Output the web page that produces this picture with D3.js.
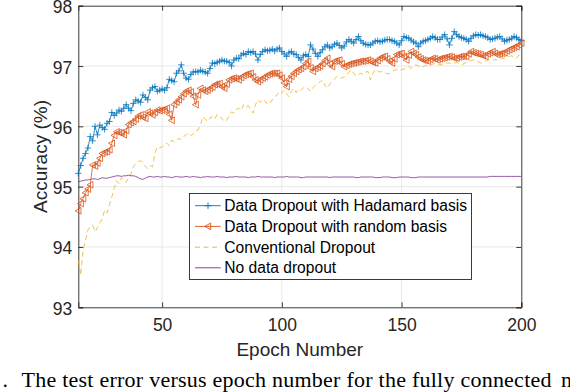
<!DOCTYPE html>
<html>
<head>
<meta charset="utf-8">
<script src="https://cdn.jsdelivr.net/npm/d3@7"></script>
<style>
html, body { margin: 0; padding: 0; background: #fff; }
svg { display: block; }
</style>
</head>
<body>
<svg id="chart" width="570" height="392"></svg>
<script>
// epochs run from firstEpoch to 200, one value per epoch
const firstEpoch = 15;

const hadamard = [
    95.22, 95.35, 95.47, 95.55, 95.64, 95.83, 95.76, 96.00, 95.86, 96.02,
    95.98, 95.95, 96.05, 96.08, 96.23, 96.18, 96.22, 96.27, 96.25, 96.30,
    96.36, 96.30, 96.26, 96.38, 96.44, 96.42, 96.40, 96.52, 96.48, 96.44,
    96.60, 96.64, 96.66, 96.58, 96.60, 96.62, 96.60, 96.64, 96.78, 96.76,
    96.74, 96.88, 96.92, 97.02, 96.88, 96.80, 96.78, 96.86, 96.90, 96.91,
    96.90, 96.93, 96.91, 96.90, 96.88, 96.96, 97.05, 97.04, 97.06, 97.08,
    97.10, 97.08, 97.08, 97.06, 97.00, 97.10, 97.13, 97.12, 97.18, 97.21,
    97.19, 97.24, 97.22, 97.24, 97.20, 97.10, 97.19, 97.24, 97.27, 97.25,
    97.26, 97.28, 97.25, 97.28, 97.30, 97.24, 97.20, 97.16, 97.22, 97.24,
    97.20, 97.19, 97.14, 97.10, 97.17, 97.19, 97.16, 97.35, 97.28, 97.21,
    97.16, 97.22, 97.27, 97.32, 97.35, 97.30, 97.32, 97.36, 97.38, 97.34,
    97.30, 97.33, 97.40, 97.44, 97.41, 97.38, 97.44, 97.49, 97.42, 97.38,
    97.36, 97.35, 97.35, 97.38, 97.41, 97.42, 97.40, 97.41, 97.43, 97.44,
    97.44, 97.42, 97.41, 97.38, 97.35, 97.42, 97.49, 97.47, 97.46, 97.43,
    97.40, 97.38, 97.32, 97.38, 97.41, 97.42, 97.44, 97.46, 97.49, 97.47,
    97.44, 97.44, 97.48, 97.52, 97.45, 97.35, 97.46, 97.57, 97.52, 97.49,
    97.47, 97.46, 97.44, 97.41, 97.46, 97.50, 97.52, 97.51, 97.52, 97.50,
    97.49, 97.47, 97.44, 97.45, 97.46, 97.48, 97.49, 97.45, 97.41, 97.43,
    97.44, 97.46, 97.49, 97.47, 97.44, 97.42
];

const randomBasis = [
    94.60, 94.72, 94.80, 94.90, 94.96, 95.03, 95.36, 95.34, 95.39, 95.47,
    95.55, 95.57, 95.58, 95.61, 95.72, 95.85, 95.91, 95.90, 95.89, 95.86,
    95.93, 96.03, 96.06, 96.08, 96.12, 96.17, 96.19, 96.15, 96.13, 96.24,
    96.22, 96.19, 96.23, 96.27, 96.26, 96.27, 96.28, 96.30, 96.20, 96.10,
    96.36, 96.40, 96.44, 96.49, 96.54, 96.58, 96.60, 96.57, 96.50, 96.36,
    96.52, 96.63, 96.60, 96.58, 96.60, 96.63, 96.65, 96.69, 96.70, 96.71,
    96.66, 96.63, 96.70, 96.77, 96.79, 96.80, 96.79, 96.77, 96.81, 96.84,
    96.86, 96.87, 96.88, 96.82, 96.77, 96.74, 96.77, 96.80, 96.82, 96.85,
    96.87, 96.88, 96.88, 96.88, 96.85, 96.80, 96.72, 96.66, 96.78, 96.83,
    96.88, 96.91, 96.94, 96.96, 96.99, 97.04, 97.08, 96.97, 96.91, 96.96,
    96.98, 97.00, 97.04, 97.09, 97.13, 97.03, 96.99, 97.08, 97.09, 97.10,
    97.04, 96.99, 97.01, 97.03, 97.04, 97.05, 97.06, 97.07, 97.08, 97.08,
    97.09, 97.10, 97.08, 97.06, 97.05, 97.09, 97.13, 97.15, 97.16, 97.12,
    97.08, 97.05, 97.12, 97.19, 97.20, 97.21, 97.16, 97.10, 97.18, 97.24,
    97.21, 97.19, 97.15, 97.12, 97.10, 97.09, 97.08, 97.11, 97.13, 97.12,
    97.10, 97.12, 97.13, 97.14, 97.15, 97.16, 97.15, 97.13, 97.13, 97.15,
    97.16, 97.16, 97.16, 97.20, 97.24, 97.22, 97.21, 97.20, 97.19, 97.17,
    97.16, 97.20, 97.22, 97.24, 97.21, 97.19, 97.20, 97.21, 97.22, 97.25,
    97.27, 97.29, 97.31, 97.32, 97.35, 97.38
];

const conventional = [
    93.78, 93.53, 93.95, 94.10, 94.28, 94.34, 94.36, 94.25, 94.32, 94.40,
    94.47, 94.61, 94.56, 94.70, 94.83, 94.98, 95.10, 95.05, 95.15, 95.10,
    95.07, 95.15, 95.21, 95.33, 95.38, 95.41, 95.43, 95.40, 95.33, 95.30,
    95.35, 95.33, 95.55, 95.66, 95.64, 95.66, 95.70, 95.72, 95.68, 95.77,
    95.74, 95.77, 95.80, 95.78, 95.83, 95.86, 95.89, 95.85, 95.87, 95.92,
    95.94, 96.02, 96.16, 96.12, 96.08, 96.14, 96.16, 96.12, 96.20, 96.16,
    96.13, 96.08, 96.10, 96.18, 96.24, 96.22, 96.28, 96.30, 96.26, 96.36,
    96.32, 96.34, 96.28, 96.22, 96.36, 96.44, 96.40, 96.45, 96.42, 96.36,
    96.38, 96.44, 96.49, 96.52, 96.58, 96.55, 96.60, 96.54, 96.49, 96.58,
    96.63, 96.56, 96.62, 96.60, 96.64, 96.66, 96.62, 96.58, 96.64, 96.68,
    96.71, 96.74, 96.77, 96.68, 96.63, 96.70, 96.74, 96.78, 96.83, 96.81,
    96.80, 96.82, 96.85, 96.90, 96.94, 96.88, 96.83, 96.86, 96.88, 96.86,
    96.90, 96.91, 96.77, 96.88, 96.94, 96.92, 96.90, 96.91, 96.89, 96.87,
    96.88, 96.91, 96.93, 96.94, 96.92, 96.94, 96.95, 96.97, 96.99, 96.96,
    97.00, 97.02, 97.00, 96.98, 96.99, 97.01, 97.02, 97.00, 97.03, 97.05,
    97.04, 97.02, 97.02, 97.04, 97.05, 97.05, 97.03, 97.05, 97.06, 97.04,
    97.02, 97.04, 97.06, 97.08, 97.09, 97.10, 97.10, 97.07, 97.05, 97.05,
    97.08, 97.10, 97.10, 97.09, 97.11, 97.10, 97.12, 97.13, 97.12, 97.15,
    97.16, 97.17, 97.14, 97.13, 97.18, 97.25
];

const noDropout = [
    95.08, 95.09, 95.10, 95.11, 95.11, 95.12, 95.13, 95.13, 95.12, 95.13,
    95.15, 95.14, 95.14, 95.15, 95.16, 95.17, 95.18, 95.18, 95.17, 95.18,
    95.18, 95.19, 95.18, 95.18, 95.17, 95.15, 95.13, 95.12, 95.14, 95.16,
    95.17, 95.16, 95.16, 95.17, 95.16, 95.16, 95.17, 95.16, 95.16, 95.15,
    95.16, 95.17, 95.16, 95.16, 95.16, 95.17, 95.16, 95.16, 95.17, 95.16,
    95.16, 95.15, 95.16, 95.16, 95.17, 95.16, 95.16, 95.16, 95.17, 95.16,
    95.16, 95.16, 95.15, 95.16, 95.16, 95.16, 95.17, 95.16, 95.16, 95.16,
    95.16, 95.15, 95.16, 95.16, 95.16, 95.17, 95.16, 95.16, 95.16, 95.16,
    95.16, 95.16, 95.15, 95.16, 95.16, 95.16, 95.16, 95.17, 95.16, 95.16,
    95.16, 95.16, 95.16, 95.15, 95.15, 95.16, 95.16, 95.16, 95.16, 95.16,
    95.16, 95.16, 95.16, 95.16, 95.16, 95.15, 95.16, 95.16, 95.16, 95.16,
    95.16, 95.16, 95.16, 95.16, 95.16, 95.16, 95.15, 95.15, 95.16, 95.16,
    95.16, 95.16, 95.16, 95.16, 95.15, 95.15, 95.15, 95.16, 95.16, 95.16,
    95.16, 95.15, 95.15, 95.15, 95.16, 95.16, 95.16, 95.16, 95.16, 95.15,
    95.15, 95.15, 95.16, 95.16, 95.16, 95.16, 95.16, 95.16, 95.16, 95.16,
    95.16, 95.16, 95.16, 95.16, 95.16, 95.16, 95.16, 95.16, 95.16, 95.16,
    95.16, 95.16, 95.16, 95.16, 95.16, 95.16, 95.16, 95.16, 95.16, 95.16,
    95.16, 95.16, 95.17, 95.17, 95.17, 95.17, 95.17, 95.17, 95.17, 95.17,
    95.17, 95.17, 95.17, 95.17, 95.17, 95.17
];

const xTicks = [50, 100, 150, 200];
const yTicks = [93, 94, 95, 96, 97, 98];
const seriesNames = [
    "Data Dropout with Hadamard basis",
    "Data Dropout with random basis",
    "Conventional Dropout",
    "No data dropout"
];

// MATLAB default line colours
const colors = ["#0072BD", "#D95319", "#EDB120", "#7E2F8E"];
const axisColor = "#262626";
const sans = "'Liberation Sans', Arial, sans-serif";

const plotLeft = 78.3, plotRight = 521.3, plotTop = 5.7, plotBottom = 307.3;

const x = d3.scaleLinear().domain([firstEpoch, 200]).range([plotLeft, plotRight]);
const y = d3.scaleLinear().domain([93, 98]).range([plotBottom, plotTop]);

const svg = d3.select("#chart");

// grid
svg.append("g")
    .selectAll("line")
    .data(xTicks.filter(t => t < 200))
    .enter().append("line")
    .attr("x1", d => x(d)).attr("x2", d => x(d))
    .attr("y1", plotTop).attr("y2", plotBottom)
    .attr("stroke", "#e8e8e8").attr("stroke-width", 1);

svg.append("g")
    .selectAll("line")
    .data(yTicks.filter(t => t > 93 && t < 98))
    .enter().append("line")
    .attr("x1", plotLeft).attr("x2", plotRight)
    .attr("y1", d => y(d)).attr("y2", d => y(d))
    .attr("stroke", "#e8e8e8").attr("stroke-width", 1);

// axes, ticks pointing inward on all four sides
const tickLen = 5;
const xAxisB = d3.axisBottom(x).tickValues(xTicks).tickSize(-tickLen).tickPadding(11)
    .tickFormat(d3.format("d"));
const xAxisT = d3.axisTop(x).tickValues(xTicks).tickSize(-tickLen).tickFormat("");
const yAxisL = d3.axisLeft(y).tickValues(yTicks).tickSize(-tickLen).tickPadding(6)
    .tickFormat(d3.format("d"));
const yAxisR = d3.axisRight(y).tickValues(yTicks).tickSize(-tickLen).tickFormat("");

function styleAxis(g) {
    g.select(".domain").attr("stroke", axisColor).attr("stroke-width", 0.9);
    g.selectAll(".tick line").attr("stroke", axisColor).attr("stroke-width", 0.9);
    g.selectAll(".tick text")
        .attr("fill", axisColor)
        .style("font-family", sans)
        .style("font-size", "17.5px");
}

svg.append("g").attr("transform", `translate(0,${plotBottom})`).call(xAxisB).call(styleAxis);
svg.append("g").attr("transform", `translate(0,${plotTop})`).call(xAxisT).call(styleAxis);
svg.append("g").attr("transform", `translate(${plotLeft},0)`).call(yAxisL).call(styleAxis)
    .selectAll(".tick text").attr("dy", "0.4em");
svg.append("g").attr("transform", `translate(${plotRight},0)`).call(yAxisR).call(styleAxis);

// axis labels
svg.append("text")
    .attr("x", (plotLeft + plotRight) / 2).attr("y", 355.5)
    .attr("text-anchor", "middle")
    .attr("fill", axisColor)
    .style("font-family", sans).style("font-size", "19px")
    .text("Epoch Number");

svg.append("text")
    .attr("transform", `translate(46.5,${(plotTop + plotBottom) / 2}) rotate(-90)`)
    .attr("text-anchor", "middle")
    .attr("fill", axisColor)
    .style("font-family", sans).style("font-size", "19px")
    .text("Accuracy (%)");

// markers
const plusPath = "M-3.2,0H3.2M0,-3.2V3.2";
const triPath = "M-3.3,0L2.7,-3.3L2.7,3.3Z";

const allSeries = [hadamard, randomBasis, conventional, noDropout];
const line = d3.line()
    .x((d, i) => x(firstEpoch + i))
    .y(d => y(d));

const dashes = [null, null, "5,3.5", null];

allSeries.forEach((vals, k) => {
    const g = svg.append("g");
    g.append("path")
        .datum(vals)
        .attr("d", line)
        .attr("fill", "none")
        .attr("stroke", colors[k])
        .attr("stroke-width", 0.8)
        .attr("stroke-dasharray", dashes[k]);
    if (k < 2) {
        g.selectAll("path.m")
            .data(vals)
            .enter().append("path")
            .attr("class", "m")
            .attr("transform", (d, i) => `translate(${x(firstEpoch + i)},${y(d)})`)
            .attr("d", k === 0 ? plusPath : triPath)
            .attr("fill", "none")
            .attr("stroke", colors[k])
            .attr("stroke-width", 0.8);
    }
});

// legend
const lg = svg.append("g");
lg.append("rect")
    .attr("x", 189.5).attr("y", 193.5)
    .attr("width", 282).attr("height", 86)
    .attr("fill", "#fff")
    .attr("stroke", axisColor).attr("stroke-width", 0.9);

const rowY = [205.7, 226.4, 247.2, 267.8];
seriesNames.forEach((name, k) => {
    lg.append("line")
        .attr("x1", 195).attr("x2", 220.7)
        .attr("y1", rowY[k]).attr("y2", rowY[k])
        .attr("stroke", colors[k]).attr("stroke-width", 0.9)
        .attr("stroke-dasharray", dashes[k]);
    if (k < 2) {
        lg.append("path")
            .attr("transform", `translate(208,${rowY[k]})`)
            .attr("d", k === 0 ? plusPath : triPath)
            .attr("fill", "none")
            .attr("stroke", colors[k]).attr("stroke-width", 0.9);
    }
    lg.append("text")
        .attr("x", 224.3).attr("y", rowY[k])
        .attr("dy", "0.36em")
        .attr("fill", "#000")
        .style("font-family", sans).style("font-size", "15.6px")
        .text(name);
});

// caption fragment below the figure (cut by the picture edge)
const serif = "'Liberation Serif', 'Times New Roman', serif";
svg.append("text")
    .attr("x", 2.5).attr("y", 386.5)
    .style("font-family", serif).style("font-size", "22px")
    .text(".");
svg.append("text")
    .attr("x", 21.5).attr("y", 386.5)
    .attr("textLength", 530).attr("lengthAdjust", "spacing")
    .style("font-family", serif).style("font-size", "22px")
    .text("The test error versus epoch number for the fully connected");
svg.append("text")
    .attr("x", 561).attr("y", 386.5)
    .style("font-family", serif).style("font-size", "22px")
    .text("network");
</script>
</body>
</html>
